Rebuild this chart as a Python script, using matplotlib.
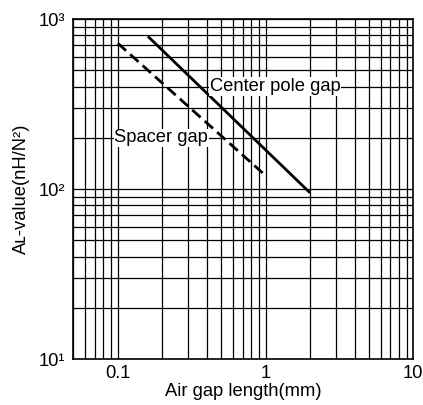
import numpy as np
import matplotlib.pyplot as plt
from matplotlib.ticker import FixedLocator, FixedFormatter, LogLocator, NullFormatter

plt.rcParams['font.family'] = ['Liberation Sans', 'DejaVu Sans']

# Datos
center_x = [0.16, 2.0]
center_y = [790, 95]
spacer_x = [0.1, 1.0]
spacer_y = [720, 120]

x_ticks = [0.1, 1, 10]
x_labels = ['0.1', '1', '10']
y_ticks = [10, 100, 1000]
y_labels = ['10\u00b9', '10\u00b2', '10\u00b3']

fs = 13.2

fig = plt.figure(figsize=(4.23, 4.05), dpi=100)
ax = fig.add_axes([73.3 / 423, 1 - 359 / 405, 340 / 423, 340 / 405])

ax.set_xscale('log')
ax.set_yscale('log')
ax.set_xlim(0.05, 10)
ax.set_ylim(10, 1000)

ax.plot(center_x, center_y, color='black', lw=2.0, solid_capstyle='butt', zorder=3)
ax.plot(spacer_x, spacer_y, color='black', lw=2.0, ls=(0, (4, 2)), zorder=3)

ax.xaxis.set_major_locator(FixedLocator(x_ticks))
ax.xaxis.set_major_formatter(FixedFormatter(x_labels))
ax.yaxis.set_major_locator(FixedLocator(y_ticks))
ax.yaxis.set_major_formatter(FixedFormatter(y_labels))
ax.xaxis.set_minor_locator(LogLocator(base=10, subs=np.arange(2, 10), numticks=20))
ax.yaxis.set_minor_locator(LogLocator(base=10, subs=np.arange(2, 10), numticks=20))
ax.xaxis.set_minor_formatter(NullFormatter())
ax.yaxis.set_minor_formatter(NullFormatter())

ax.grid(True, which='both', color='black', lw=0.9)
ax.tick_params(which='both', length=0, labelsize=fs)
ax.tick_params(axis='x', pad=4)
ax.tick_params(axis='y', pad=6)
for s in ax.spines.values():
    s.set_linewidth(1.2)

ax.text(0.42, 400, 'Center pole gap', fontsize=fs, ha='left', va='center',
        bbox=dict(facecolor='white', edgecolor='none', pad=0.5), zorder=4)
ax.text(0.095, 200, 'Spacer gap', fontsize=fs, ha='left', va='center',
        bbox=dict(facecolor='white', edgecolor='none', pad=0.5), zorder=4)

ax.set_xlabel('Air gap length(mm)', fontsize=fs, labelpad=1)
ax.set_ylabel('A\u029f-value(nH/N\u00b2)', fontsize=fs, labelpad=6)

fig.savefig('out.png', dpi=100)
